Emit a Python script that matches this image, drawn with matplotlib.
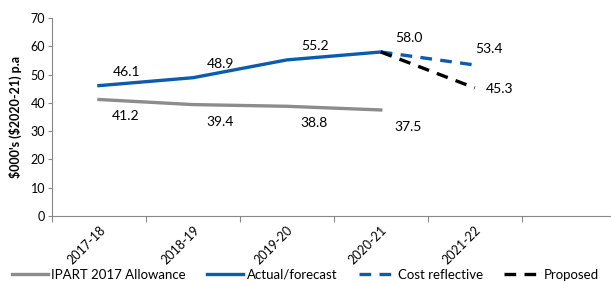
import matplotlib
matplotlib.use('Agg')
from matplotlib import pyplot as plt
import numpy as np

years = ['2017-18', '2018-19', '2019-20', '2020-21', '2021-22', '']
ipart = [41.2, 39.4, 38.8, 37.5]
actual = [46.1, 48.9, 55.2, 58.0]
cost_reflective = [58.0, 53.4]
proposed = [58.0, 45.3]

blue = '#0b5cad'
grey = '#8c8c8c'
plt.rcParams['font.family'] = ['Lato', 'DejaVu Sans']

fig = plt.figure(figsize=(6.11, 2.82), dpi=100)
ax = fig.add_axes([0.085, 0.234, 0.915, 0.702])

x = np.arange(len(years))
ax.plot(x[:4], ipart, color=grey, lw=2.4, label='IPART 2017 Allowance')
ax.plot(x[:4], actual, color=blue, lw=2.4, label='Actual/forecast')
ax.plot(x[3:5], cost_reflective, color=blue, lw=2.4, ls=(0, (3.5, 2.5)), label='Cost reflective')
ax.plot(x[3:5], proposed, color='black', lw=2.4, ls=(0, (3.5, 2.5)), label='Proposed')

# data labels
for i, v in enumerate(actual):
    ax.annotate(f'{v:.1f}', (x[i], v), xytext=(28, 14), textcoords='offset pixels',
                ha='center', va='center', fontsize=10)
for i, v in enumerate(ipart):
    ax.annotate(f'{v:.1f}', (x[i], v), xytext=(27, -17), textcoords='offset pixels',
                ha='center', va='center', fontsize=10)
ax.annotate(f'{cost_reflective[1]:.1f}', (x[4], cost_reflective[1]), xytext=(14, 16),
            textcoords='offset pixels', ha='center', va='center', fontsize=10)
ax.annotate(f'{proposed[1]:.1f}', (x[4], proposed[1]), xytext=(25, -1),
            textcoords='offset pixels', ha='center', va='center', fontsize=10)

ax.set_xlim(-0.5, 5.45)
ax.set_ylim(0, 70)
ax.set_yticks(range(0, 71, 10))
ax.set_xticks(np.arange(-0.5, 5, 1))
ax.set_xticklabels([])
ax.set_xticks(x[:5], minor=True)
ax.set_xticklabels(years[:5], minor=True, rotation=45, ha='right', va='top',
                   rotation_mode='anchor', fontsize=9)
ax.tick_params(axis='x', which='minor', length=0, pad=6)
ax.tick_params(axis='x', which='major', length=4, color='#888888')
ax.tick_params(axis='y', length=3, color='#888888', labelsize=9, pad=2)
for s in ['top', 'right']:
    ax.spines[s].set_visible(False)
for s in ['left', 'bottom']:
    ax.spines[s].set_color('#888888')
ax.set_ylabel("\\$000's (\\$2020-21) p.a", fontsize=9, fontweight='bold', labelpad=6)

fig.legend(loc='center', bbox_to_anchor=(0.5, 0.025), ncol=4, frameon=False,
           fontsize=9.5, handlelength=2.7, columnspacing=1.6, handletextpad=0.3)

plt.savefig('out.png', dpi=100)
